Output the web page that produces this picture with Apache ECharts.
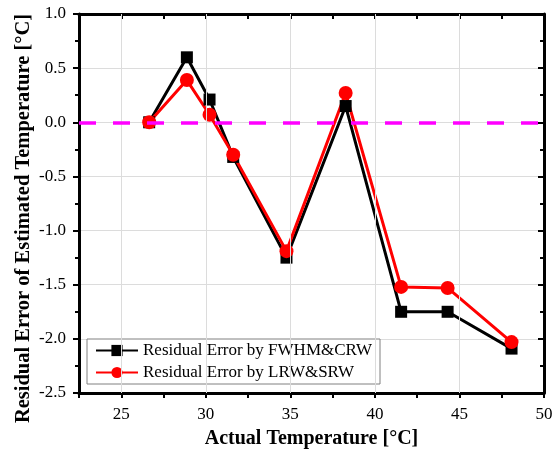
<!DOCTYPE html>
<html>
<head>
<meta charset="utf-8">
<script src="https://cdn.jsdelivr.net/npm/echarts@6/dist/echarts.min.js"></script>
<style>
html, body { margin: 0; padding: 0; background: #fff; }
#chart { width: 555px; height: 451px; }
</style>
</head>
<body>
<div id="chart"></div>
<script>
// 实测温度 (°C)
var temps = [26.65, 28.88, 30.22, 31.62, 34.77, 38.27, 41.55, 44.3, 48.08];
// 残差
var errFwhmCrw = [0.0, 0.60, 0.21, -0.32, -1.25, 0.15, -1.75, -1.75, -2.09];
var errLrwSrw = [0.0, 0.39, 0.07, -0.30, -1.19, 0.27, -1.52, -1.53, -2.03];
var xGridLines = [25, 30, 35, 40, 45];

const FONT = 'Liberation Serif';
const GRID_COLOR = '#dcdcdc';

var pairs = function (xs, ys) {
    return xs.map(function (x, i) { return [x, ys[i]]; });
};

var xBase = {
    type: 'value',
    min: 22.5,
    max: 50,
    interval: 2.5,
    splitLine: { show: false },
    axisLine: { show: true, onZero: false, lineStyle: { color: '#000', width: 3 } }
};

var yBase = {
    type: 'value',
    min: -2.5,
    max: 1.0,
    interval: 0.5,
    axisLine: { show: true, onZero: false, lineStyle: { color: '#000', width: 3 } }
};

var option = {
    animation: false,
    backgroundColor: '#fff',
    grid: { left: 79, right: 11, top: 14, bottom: 58, containLabel: false, outerBoundsMode: 'none' },
    legend: {
        left: 87,
        top: 339,
        orient: 'vertical',
        itemWidth: 42,
        itemHeight: 14,
        itemGap: 5,
        padding: [3, 8, 3, 8],
        borderColor: '#808080',
        borderWidth: 1,
        backgroundColor: '#fff',
        textStyle: { fontFamily: FONT, fontSize: 17, color: '#000' },
        data: ['Residual Error by FWHM&CRW', 'Residual Error by LRW&SRW']
    },
    xAxis: [
        Object.assign({}, xBase, {
            position: 'bottom',
            name: 'Actual Temperature [°C]',
            nameLocation: 'middle',
            nameGap: 36,
            nameMoveOverlap: false,
            nameTextStyle: { fontFamily: FONT, fontSize: 20, fontWeight: 'bold', color: '#000' },
            axisTick: { show: true, inside: false, length: 5, lineStyle: { color: '#000', width: 2 } },
            axisLabel: {
                fontFamily: FONT, fontSize: 17, color: '#000', margin: 13,
                formatter: function (v) { return v % 5 === 0 ? String(v) : ''; }
            }
        }),
        Object.assign({}, xBase, {
            position: 'top',
            axisTick: { show: true, inside: true, length: 5, lineStyle: { color: '#000', width: 2 } },
            axisLabel: { show: false }
        })
    ],
    yAxis: [
        Object.assign({}, yBase, {
            position: 'left',
            name: 'Residual Error of Estimated Temperature [°C]',
            nameLocation: 'middle',
            nameGap: 45,
            nameMoveOverlap: false,
            nameTextStyle: {
                fontFamily: FONT, fontSize: 20.5, fontWeight: 'bold', color: '#000',
                padding: [0, 30, 0, 0]
            },
            splitLine: { show: true, lineStyle: { color: GRID_COLOR, width: 1 } },
            axisTick: { show: true, inside: false, length: 6, lineStyle: { color: '#000', width: 2 } },
            minorTick: { show: true, splitNumber: 2, length: 4, lineStyle: { color: '#000', width: 2 } },
            axisLabel: {
                fontFamily: FONT, fontSize: 17, color: '#000', margin: 13,
                formatter: function (v) { return v.toFixed(1); }
            }
        }),
        Object.assign({}, yBase, {
            position: 'right',
            splitLine: { show: false },
            axisTick: { show: true, inside: true, length: 6, lineStyle: { color: '#000', width: 2 } },
            minorTick: { show: true, splitNumber: 2, length: 4, lineStyle: { color: '#000', width: 2 } },
            axisLabel: { show: false }
        })
    ],
    series: [
        {
            // 竖向网格线
            name: 'grid',
            type: 'line',
            data: [],
            z: 1,
            silent: true,
            markLine: {
                silent: true,
                symbol: 'none',
                label: { show: false },
                lineStyle: { color: GRID_COLOR, width: 1, type: 'solid' },
                data: xGridLines.map(function (v) { return { xAxis: v }; })
            }
        },
        {
            name: 'Residual Error by FWHM&CRW',
            type: 'line',
            data: pairs(temps, errFwhmCrw),
            symbol: 'rect',
            symbolSize: 12,
            color: '#000',
            lineStyle: { color: '#000', width: 3 },
            itemStyle: { color: '#000' }
        },
        {
            name: 'Residual Error by LRW&SRW',
            type: 'line',
            data: pairs(temps, errLrwSrw),
            symbol: 'circle',
            symbolSize: 14,
            color: '#ff0000',
            lineStyle: { color: '#ff0000', width: 3 },
            itemStyle: { color: '#ff0000' },
            markLine: {
                silent: true,
                symbol: 'none',
                label: { show: false },
                lineStyle: { color: '#ff00ff', width: 3.5, type: [17, 17] },
                data: [{ yAxis: 0 }]
            }
        }
    ]
};

var chart = echarts.init(document.getElementById('chart'));
chart.setOption(option);
</script>
</body>
</html>
